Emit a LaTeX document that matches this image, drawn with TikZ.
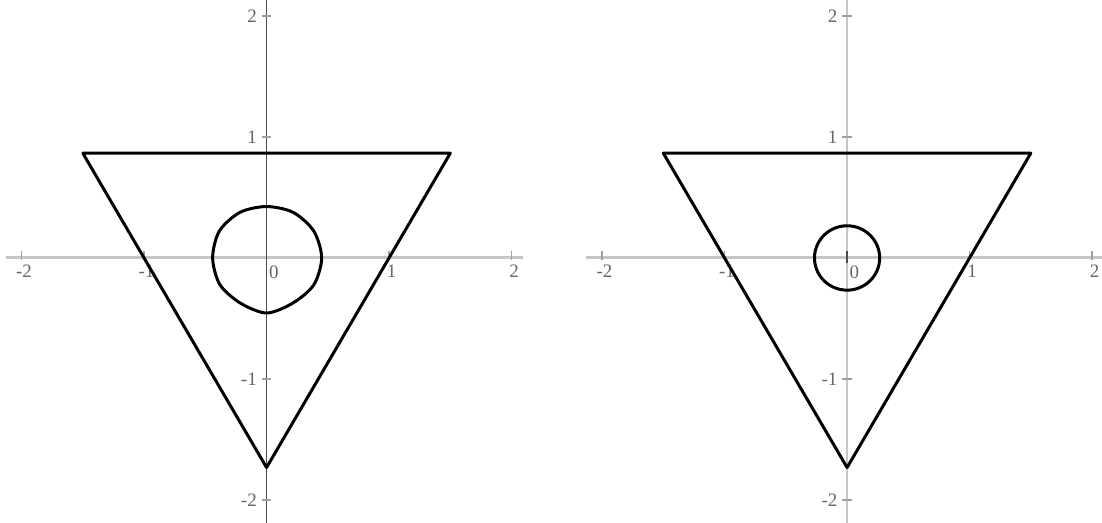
\documentclass[tikz,border=0pt]{standalone}
\usepackage{fontspec}
\setmainfont{Liberation Serif}
\tikzset{
  axisline/.style={gray!45, line width=1.5pt},
  tickmark/.style={gray!75, line width=0.6pt},
  ticklbl/.style={font=\fontsize{9.5}{11}\selectfont, text=black!60, inner sep=1pt},
  curve/.style={black, line width=1.5pt, line join=round},
}
\begin{document}
\begin{tikzpicture}[x=61.25pt, y=60.5pt]
    \useasboundingbox (-2.176,-2.19) rectangle (6.82,2.132);

    \foreach \ox/\yax/\yw/\n in {0/black!70/0.6pt/l, 4.739/gray!45/1.2pt/r} {
        \begin{scope}[shift={(\ox,0)}]
            \draw[axisline] (-2.13,0) -- (2.09,0);
            \draw[\yax, line width=\yw] (0,2.2) -- (0,-2.2);

            \foreach \i in {-2,-1,1,2} {
                \draw[tickmark] (\i,0.055) -- (\i,-0.02);
                \node[ticklbl, anchor=north] (\n-x\i) at (\i+0.02,-0.035) {\i};
                \draw[tickmark] (-0.04,\i) -- (0.04,\i);
                \node[ticklbl, anchor=east] (\n-y\i) at (-0.06,\i) {\i};
            }
            \draw[black!70, line width=0.8pt] (0,0.06) -- (0,-0.04);
            \node[ticklbl, anchor=north] (\n-o) at (0.06,-0.045) {0};

            \draw[curve] (-1.5,0.866) -- (1.5,0.866) -- (0,-1.732) -- cycle;
        \end{scope}
    }

    % inner curves
    \draw[curve] plot[smooth cycle, tension=0.5] coordinates {
        (90:0.425) (60:0.435) (30:0.445) (0:0.45) (-30:0.445) (-60:0.43)
        (-90:0.455) (-120:0.43) (-150:0.44) (180:0.44) (150:0.445) (120:0.435)};
    \draw[curve] (4.739,0) circle (0.266);
\end{tikzpicture}
\end{document}
